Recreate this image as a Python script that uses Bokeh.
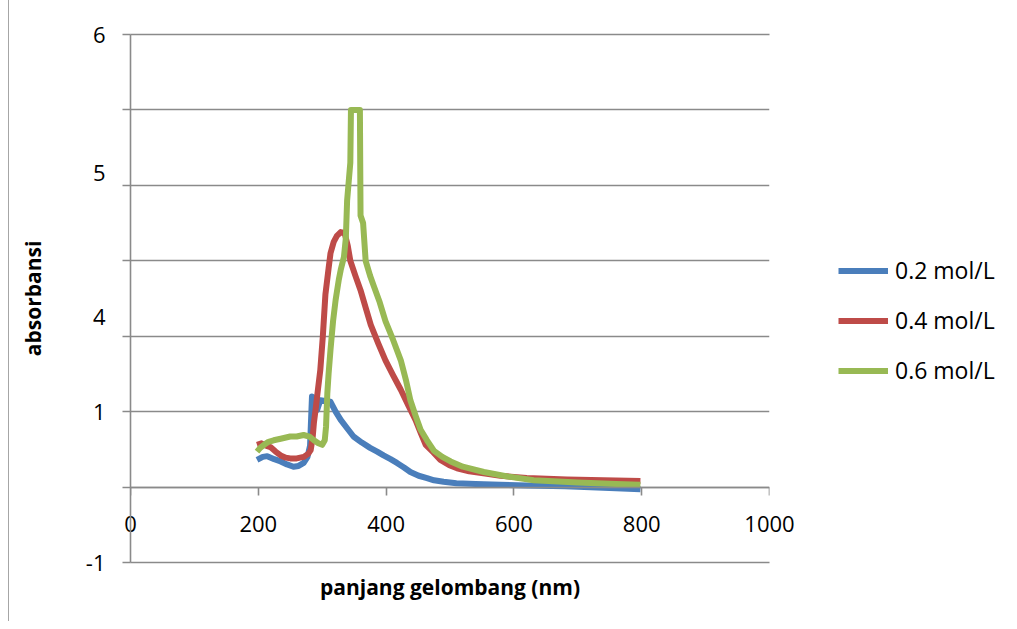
from bokeh.plotting import figure
from bokeh.models import FixedTicker, LinearAxis, Legend, LegendItem, Range1d
from bokeh.embed import file_html
from bokeh.resources import INLINE

# ---- data ----
series_names = ["0.2 mol/L", "0.4 mol/L", "0.6 mol/L"]

x_02 = [198, 207, 214, 225, 235, 245, 255, 263, 271, 277, 281, 284, 288, 292, 297, 305, 313, 321,
        329, 339, 349, 362, 375, 386, 396, 407, 417, 428, 438, 451, 464, 475, 490, 510, 540, 579,
        620, 680, 740, 798]
y_02 = [0.36, 0.40, 0.41, 0.37, 0.34, 0.30, 0.27, 0.28, 0.32, 0.40, 0.55, 1.20, 1.18, 1.02, 1.15,
        1.14, 1.13, 1.00, 0.89, 0.78, 0.67, 0.59, 0.52, 0.47, 0.42, 0.37, 0.32, 0.26, 0.20, 0.15,
        0.12, 0.09, 0.07, 0.05, 0.04, 0.03, 0.02, 0.01, -0.01, -0.03]

x_04 = [198, 205, 212, 219, 227, 235, 243, 250, 260, 271, 278, 282, 285, 287, 290, 292, 297, 301,
        305, 310, 313, 318, 323, 329, 335, 340, 344, 352, 360, 368, 376, 388, 399, 411, 423, 435,
        446, 454, 462, 474, 485, 499, 511, 530, 555, 579, 620, 683, 740, 798]
y_04 = [0.56, 0.58, 0.55, 0.53, 0.47, 0.42, 0.39, 0.38, 0.38, 0.40, 0.44, 0.49, 0.65, 0.85, 1.05,
        1.20, 1.55, 2.00, 2.55, 2.90, 3.10, 3.25, 3.33, 3.38, 3.37, 3.20, 3.00, 2.80, 2.61, 2.38,
        2.15, 1.90, 1.68, 1.48, 1.29, 1.08, 0.89, 0.72, 0.56, 0.46, 0.36, 0.29, 0.25, 0.21, 0.18,
        0.15, 0.12, 0.10, 0.09, 0.08]

x_06 = [198, 203, 209, 216, 224, 235, 250, 260, 271, 280, 287, 294, 300, 304, 306, 308, 310, 313,
        317, 321, 326, 329, 334, 337, 339, 342, 344, 345, 352, 359, 360, 364, 368, 375, 381, 390,
        399, 411, 423, 431, 438, 446, 454, 464, 475, 488, 501, 520, 553, 590, 631, 700, 760, 798]
y_06 = [0.47, 0.52, 0.56, 0.60, 0.62, 0.64, 0.67, 0.67, 0.69, 0.67, 0.62, 0.58, 0.56, 0.62, 0.80,
        1.24, 1.50, 1.82, 2.20, 2.48, 2.75, 2.88, 3.05, 3.30, 3.80, 4.10, 4.30, 5.00, 5.00, 5.00,
        3.60, 3.50, 3.00, 2.80, 2.66, 2.45, 2.20, 1.95, 1.68, 1.42, 1.15, 0.95, 0.76, 0.62, 0.48,
        0.40, 0.34, 0.27, 0.20, 0.14, 0.09, 0.06, 0.04, 0.03]

x_ticks = [0, 200, 400, 600, 800, 1000]
x_tick_labels = ["0", "200", "400", "600", "800", "1000"]
y_grid_ticks = [-1, 0, 1, 2, 3, 4, 5, 6]
y_label_pos = [6, 4.16, 2.25, 1, -1]
y_labels = ["6", "5", "4", "1", "-1"]

colors = ["#4A7EBB", "#BE4B48", "#98B954"]
FONT = "Open Sans"
GRAY = "#8a8a8a"

p = figure(frame_width=639, frame_height=528,
           min_border_left=121, min_border_right=240, min_border_top=34, min_border_bottom=59,
           x_range=Range1d(0, 1000), y_range=Range1d(-1, 6),
           output_backend="svg", toolbar_location=None)
p.outline_line_color = None
p.background_fill_color = "white"
p.border_fill_color = "white"
p.styles = {"margin-left": "8px", "border-left": "1px solid #a6a6a6"}

# grid
p.xgrid.visible = False
p.ygrid.ticker = FixedTicker(ticks=y_grid_ticks)
p.ygrid.grid_line_color = GRAY
p.ygrid.grid_line_width = 1.6

# bottom axis: its line is the -1 gridline, its labels sit above it (under the zero line)
xa = p.xaxis[0]
xa.ticker = FixedTicker(ticks=x_ticks)
xa.major_label_overrides = {t: s for t, s in zip(x_ticks, x_tick_labels)}
xa.axis_line_color = GRAY
xa.axis_line_width = 1.6
xa.major_tick_line_color = None
xa.minor_tick_line_color = None
xa.major_tick_in = 0
xa.major_tick_out = 0
xa.major_label_text_font = FONT
xa.major_label_text_font_size = "22px"
xa.major_label_text_color = "black"
xa.major_label_standoff = -47
xa.axis_label = "panjang gelombang (nm)"
xa.axis_label_text_font = FONT
xa.axis_label_text_font_style = "bold"
xa.axis_label_text_font_size = "21px"
xa.axis_label_text_color = "black"
xa.axis_label_standoff = 38

# zero line with downward ticks
x0 = LinearAxis(fixed_location=0, ticker=FixedTicker(ticks=x_ticks),
                major_label_overrides={t: "" for t in x_ticks},
                axis_line_color=GRAY, axis_line_width=1.6,
                major_tick_line_color=GRAY, major_tick_line_width=1.6,
                major_tick_in=0, major_tick_out=8, minor_tick_line_color=None)
p.add_layout(x0, "below")

# top gridline (6)
top = LinearAxis(ticker=FixedTicker(ticks=[]), axis_line_color=GRAY, axis_line_width=1.6,
                 major_tick_line_color=None, minor_tick_line_color=None,
                 major_tick_out=0, major_tick_in=0, major_label_text_font_size="0px")
p.add_layout(top, "above")

# inner y axis: line + outward ticks at gridlines
ya = p.yaxis[0]
ya.ticker = FixedTicker(ticks=y_grid_ticks)
ya.major_label_overrides = {t: "" for t in y_grid_ticks}
ya.axis_line_color = GRAY
ya.axis_line_width = 1.6
ya.major_tick_line_color = GRAY
ya.major_tick_line_width = 1.6
ya.major_tick_in = 0
ya.major_tick_out = 8
ya.minor_tick_line_color = None
ya.major_label_standoff = 0

# outer y axis: the labels
ya2 = LinearAxis(ticker=FixedTicker(ticks=y_label_pos),
                 major_label_overrides={t: s for t, s in zip(y_label_pos, y_labels)},
                 axis_line_color=None, major_tick_line_color=None, minor_tick_line_color=None,
                 major_tick_in=0, major_tick_out=0, major_label_standoff=17,
                 major_label_text_font=FONT, major_label_text_font_size="22px",
                 major_label_text_color="black",
                 axis_label="absorbansi", axis_label_text_font=FONT,
                 axis_label_text_font_style="bold", axis_label_text_font_size="21px",
                 axis_label_text_color="black", axis_label_standoff=36)
p.add_layout(ya2, "left")

r1 = p.line(x_02, y_02, line_color=colors[0], line_width=6, line_join="round")
r2 = p.line(x_04, y_04, line_color=colors[1], line_width=6, line_join="round")
r3 = p.line(x_06, y_06, line_color=colors[2], line_width=6, line_join="round")

legend = Legend(items=[LegendItem(label=series_names[0], renderers=[r1]),
                       LegendItem(label=series_names[1], renderers=[r2]),
                       LegendItem(label=series_names[2], renderers=[r3])],
                location=(69, 176), padding=0, margin=0, spacing=18,
                glyph_width=50, glyph_height=27, label_standoff=7,
                label_text_font=FONT, label_text_font_size="23px", label_text_color="black",
                border_line_color=None, background_fill_alpha=0)
p.add_layout(legend, "right")

open("out.html", "w").write(file_html(p, INLINE))
